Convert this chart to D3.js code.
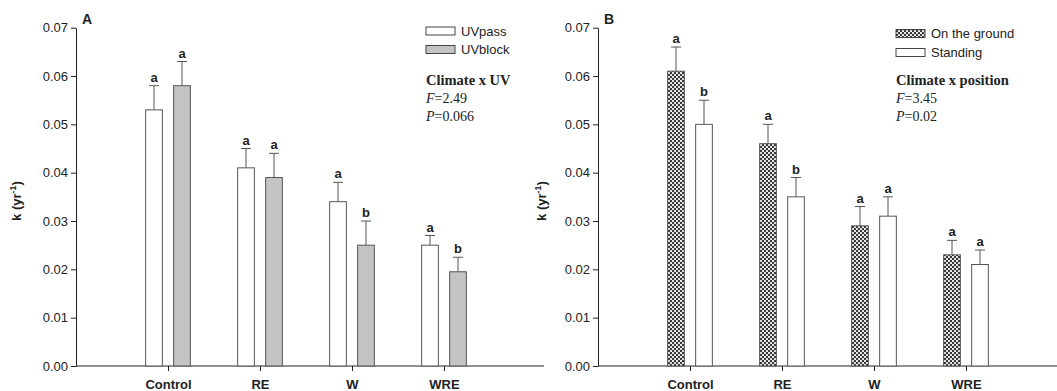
<!DOCTYPE html>
<html>
<head>
<meta charset="utf-8">
<script src="https://cdn.jsdelivr.net/npm/d3@7"></script>
<style>
  body { margin: 0; background: #fff; }
  svg { display: block; }
  .tick text { font-family: "Liberation Sans", Arial, sans-serif; fill: #222; }
</style>
</head>
<body>
<div id="chart"></div>
<script>
// shared data
const categories = ["Control", "RE", "W", "WRE"];
const yTicks = [0, 0.01, 0.02, 0.03, 0.04, 0.05, 0.06, 0.07];

// panel A
const uvPass = [0.053, 0.041, 0.034, 0.025];
const uvPassErr = [0.005, 0.004, 0.004, 0.002];
const uvPassLetters = ["a", "a", "a", "a"];
const uvBlock = [0.058, 0.039, 0.025, 0.0195];
const uvBlockErr = [0.005, 0.005, 0.005, 0.003];
const uvBlockLetters = ["a", "a", "b", "b"];

// panel B
const onGround = [0.061, 0.046, 0.029, 0.023];
const onGroundErr = [0.005, 0.004, 0.004, 0.003];
const onGroundLetters = ["a", "a", "a", "a"];
const standing = [0.050, 0.035, 0.031, 0.021];
const standingErr = [0.005, 0.004, 0.004, 0.003];
const standingLetters = ["b", "b", "a", "a"];

const width = 1057, height = 391;
const svg = d3.select("#chart").append("svg")
  .attr("width", width).attr("height", height);

const defs = svg.append("defs");
const pat = defs.append("pattern")
  .attr("id", "hatch").attr("patternUnits", "userSpaceOnUse")
  .attr("width", 4).attr("height", 4);
pat.append("rect").attr("width", 4).attr("height", 4).attr("fill", "#3a3a3a");
pat.append("circle").attr("cx", 1).attr("cy", 1).attr("r", 1.05).attr("fill", "#fff");
pat.append("circle").attr("cx", 3).attr("cy", 3).attr("r", 1.05).attr("fill", "#fff");

const y = d3.scaleLinear().domain([0, 0.07]).range([366, 27.7]);

function panel(opt) {
  const g = svg.append("g");
  const x = d3.scaleLinear().domain([0, 5]).range([opt.x0, opt.x0 + 460]);
  const barW = 16.7, off = 14;

  // y axis
  g.append("g")
    .attr("transform", `translate(${opt.x0},0)`)
    .call(d3.axisLeft(y).tickValues(yTicks).tickFormat(d3.format(".2f"))
      .tickSize(5).tickSizeOuter(0).tickPadding(3))
    .call(a => a.selectAll("text").style("font-size", "13px"))
    .call(a => a.selectAll("line,path").attr("stroke", "#222"));

  // x axis
  g.append("g")
    .attr("transform", `translate(0,${y(0)})`)
    .call(d3.axisBottom(x).tickValues([1, 2, 3, 4])
      .tickFormat(i => categories[i - 1]).tickSize(5).tickSizeOuter(0).tickPadding(9))
    .call(a => a.select(".domain").remove())
    .call(a => a.selectAll("line").attr("stroke", "#222"))
    .call(a => a.selectAll("text").style("font-size", "13px").style("font-weight", "bold"));
  g.append("line")
    .attr("x1", opt.x0).attr("x2", opt.xEnd)
    .attr("y1", y(0)).attr("y2", y(0))
    .attr("stroke", "#222");

  opt.series.forEach((s, si) => {
    const dx = si === 0 ? -off : off;
    categories.forEach((c, i) => {
      const cx = x(i + 1) + dx;
      const top = y(s.values[i] + s.err[i]);
      g.append("line")
        .attr("x1", cx).attr("x2", cx)
        .attr("y1", y(s.values[i])).attr("y2", top)
        .attr("stroke", "#555");
      g.append("line")
        .attr("x1", cx - 5).attr("x2", cx + 5)
        .attr("y1", top).attr("y2", top)
        .attr("stroke", "#555");
      g.append("rect")
        .attr("x", cx - barW / 2).attr("y", y(s.values[i]))
        .attr("width", barW).attr("height", y(0) - y(s.values[i]))
        .attr("fill", s.fill).attr("stroke", "#555").attr("stroke-width", 1);
      g.append("text")
        .attr("x", cx).attr("y", top - 4)
        .attr("text-anchor", "middle")
        .style("font-family", "Liberation Sans, Arial, sans-serif")
        .style("font-size", "13px").style("font-weight", "bold")
        .attr("fill", "#222")
        .text(s.letters[i]);
    });
  });

  // panel letter
  g.append("text")
    .attr("x", opt.x0 + 6).attr("y", 24)
    .style("font-family", "Liberation Sans, Arial, sans-serif")
    .style("font-size", "14px").style("font-weight", "bold")
    .attr("fill", "#222").text(opt.letter);

  // y label
  const yl = g.append("text")
    .attr("transform", `translate(${opt.yLabelX},201) rotate(-90)`)
    .attr("text-anchor", "middle")
    .style("font-family", "Liberation Sans, Arial, sans-serif")
    .style("font-size", "13px").style("font-weight", "bold")
    .attr("fill", "#222");
  yl.append("tspan").text("k (yr");
  yl.append("tspan").attr("dy", -5).style("font-size", "9px").text("-1");
  yl.append("tspan").attr("dy", 5).text(")");

  // legend
  opt.series.forEach((s, si) => {
    const ly = opt.legY[si];
    g.append("rect")
      .attr("x", opt.legX).attr("y", ly)
      .attr("width", 29).attr("height", 8)
      .attr("fill", s.fill).attr("stroke", "#444");
    g.append("text")
      .attr("x", opt.legX + 35).attr("y", ly + 8.5)
      .style("font-family", "Liberation Sans, Arial, sans-serif")
      .style("font-size", "13px").attr("fill", "#222")
      .text(s.name);
  });

  const serif = "Liberation Serif, Times New Roman, serif";
  g.append("text")
    .attr("x", opt.legX).attr("y", 85)
    .style("font-family", serif).style("font-size", "14.5px").style("font-weight", "bold")
    .attr("fill", "#222").text(opt.stat);
  [["F", opt.F, 103], ["P", opt.P, 121]].forEach(([k, v, yy]) => {
    const t = g.append("text")
      .attr("x", opt.legX).attr("y", yy)
      .style("font-family", serif).style("font-size", "14px")
      .attr("fill", "#222");
    t.append("tspan").style("font-style", "italic").text(k);
    t.append("tspan").text("=" + v);
  });
}

panel({
  x0: 76, xEnd: 544, letter: "A", yLabelX: 21, legX: 426, legY: [27, 45.5],
  stat: "Climate x UV", F: "2.49", P: "0.066",
  series: [
    { name: "UVpass", values: uvPass, err: uvPassErr, letters: uvPassLetters, fill: "#fff" },
    { name: "UVblock", values: uvBlock, err: uvBlockErr, letters: uvBlockLetters, fill: "#c4c4c4" }
  ]
});

panel({
  x0: 598, xEnd: 1057, letter: "B", yLabelX: 546, legX: 896, legY: [29.5, 48.5],
  stat: "Climate x position", F: "3.45", P: "0.02",
  series: [
    { name: "On the ground", values: onGround, err: onGroundErr, letters: onGroundLetters, fill: "url(#hatch)" },
    { name: "Standing", values: standing, err: standingErr, letters: standingLetters, fill: "#fff" }
  ]
});
</script>
</body>
</html>
